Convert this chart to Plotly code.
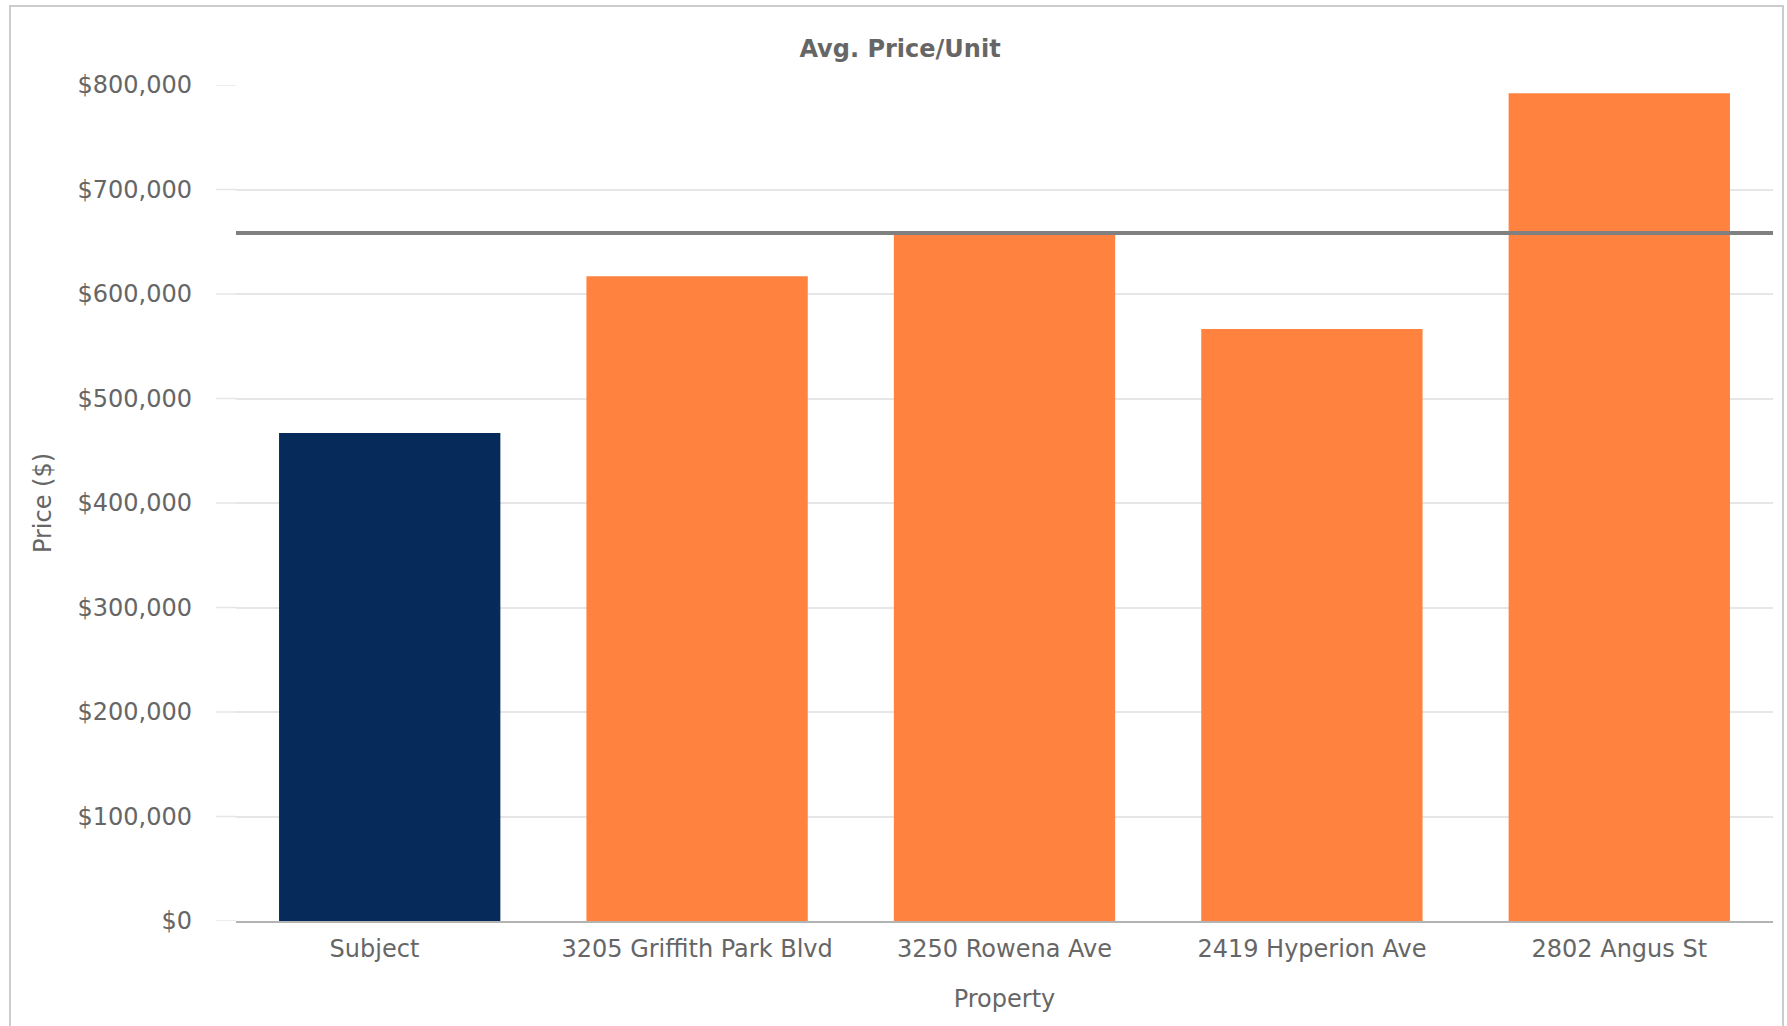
import plotly.graph_objects as go

# Average price per unit for the subject property and its comparables
properties = ["Subject", "3205 Griffith Park Blvd", "3250 Rowena Ave",
              "2419 Hyperion Ave", "2802 Angus St"]
property_labels = ["Subject\u00a0\u00a0\u00a0\u00a0", "3205 Griffith Park Blvd",
                   "3250 Rowena Ave", "2419 Hyperion Ave", "2802 Angus St"]
avg_price_per_unit = [467000, 617000, 658000, 566500, 792000]
bar_colors = ["#062B5B", "#FF823E", "#FF823E", "#FF823E", "#FF823E"]

y_tick_values = [0, 100000, 200000, 300000, 400000, 500000, 600000, 700000, 800000]
y_tick_labels = ["$0", "$100,000", "$200,000", "$300,000", "$400,000",
                 "$500,000", "$600,000", "$700,000", "$800,000"]

# Comparable average (all properties except the subject)
comps = avg_price_per_unit[1:]
comp_average = sum(comps) / len(comps)

W, H = 1787, 1026
L, R, T, B = 236, 14, 85, 105
PW, PH = W - L - R, H - T - B
FONT = "DejaVu Sans"
TEXT = "#666666"
GRID = "#e6e6e6"
GRID_LEAD = 20  # px the gridlines reach past the left edge of the plot

fig = go.Figure()
fig.add_trace(go.Bar(
    x=properties,
    y=avg_price_per_unit,
    marker=dict(color=bar_colors, line=dict(width=0)),
    width=0.72,
    hoverinfo="x+y",
    showlegend=False,
))

# Short gridline extensions to the left of the plot area
for v in y_tick_values:
    fig.add_shape(
        type="line", xref="paper", yref="y",
        x0=-GRID_LEAD / PW, x1=0, y0=v, y1=v,
        line=dict(color=GRID, width=1.5),
        layer="below",
    )

# Horizontal reference line at the comparable average
fig.add_shape(
    type="line", xref="paper", yref="y",
    x0=0, x1=1, y0=comp_average, y1=comp_average,
    line=dict(color="#808080", width=4),
    layer="above",
)

# Outer frame around the chart card
fig.add_shape(
    type="rect", xref="paper", yref="paper",
    x0=-(L - 10) / PW, x1=1 + (R - 4) / PW, y0=-0.2, y1=1 + (T - 6) / PH,
    line=dict(color="#cccccc", width=2),
    fillcolor="rgba(0,0,0,0)",
    layer="below",
)

fig.update_layout(
    width=W, height=H,
    margin=dict(l=L, r=R, t=T, b=B, pad=0),
    paper_bgcolor="white",
    plot_bgcolor="white",
    font=dict(family=FONT, size=24, color=TEXT),
    title=dict(
        text="<b>Avg. Price/Unit</b>",
        font=dict(family=FONT, size=24, color=TEXT),
        x=(900 - L) / PW, xref="paper", xanchor="center",
        y=1 - 49 / H, yref="container", yanchor="middle",
    ),
    bargap=0.28,
    xaxis=dict(
        title=dict(text="Property", font=dict(size=24, color=TEXT), standoff=28),
        tickmode="array",
        tickvals=properties,
        ticktext=property_labels,
        tickfont=dict(size=24, color=TEXT),
        showgrid=False,
        showline=True, linecolor="#b3b3b3", linewidth=2,
        ticks="", ticklabelstandoff=5,
        zeroline=False,
    ),
    yaxis=dict(
        title=dict(text="Price ($)", font=dict(size=24, color=TEXT), standoff=19),
        range=[0, 800000],
        tickvals=y_tick_values,
        ticktext=y_tick_labels,
        tickfont=dict(size=24, color=TEXT),
        showgrid=True, gridcolor=GRID, gridwidth=1.5,
        ticks="", ticklabelstandoff=43,
        zeroline=False,
        showline=False,
    ),
)

fig.write_html("out.html")
